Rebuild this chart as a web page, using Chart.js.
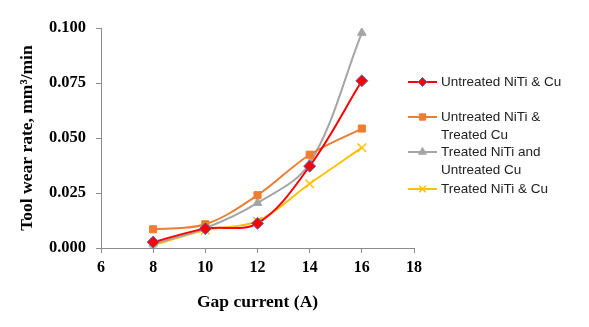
<!DOCTYPE html>
<html lang="en">
<head>
    <meta charset="UTF-8">
    <title>Tool wear rate</title>
    <script src="https://cdn.jsdelivr.net/npm/chart.js"></script>
    <style>
        html, body { margin: 0; padding: 0; background: #fff; }
        #wrap { width: 589px; height: 327px; }
    </style>
</head>
<body>
    <div id="wrap"><canvas id="myChart" width="589" height="327"></canvas></div>
    <script>
        // gap current (A)
        const gapCurrent = [8, 10, 12, 14, 16];

        // tool wear rate, mm3/min
        const untreatedBoth = [0.0027, 0.0088, 0.0112, 0.0372, 0.0760];
        const untreatedNiTiTreatedCu = [0.0085, 0.0108, 0.0240, 0.0424, 0.0543];
        const treatedNiTiUntreatedCu = [0.0020, 0.0090, 0.0205, 0.0385, 0.0978];
        const treatedBoth = [0.0012, 0.0082, 0.0122, 0.0292, 0.0456];

        const legendLabels = [
            ['Untreated NiTi & Cu'],
            ['Untreated NiTi &', 'Treated Cu'],
            ['Treated NiTi and', 'Untreated Cu'],
            ['Treated NiTi & Cu']
        ];
        const legendRows = [82, 117, 152, 189];

        function pts(vals) {
            return gapCurrent.map((x, i) => ({ x: x, y: vals[i] }));
        }

        // hand drawn legend on the right, labels wrap like the excel one
        const sideLegend = {
            id: 'sideLegend',
            afterDraw(chart) {
                const ctx = chart.ctx;
                ctx.save();
                ctx.font = '13.5px "Liberation Sans", Arial, sans-serif';
                ctx.textBaseline = 'middle';
                chart.data.datasets.forEach((ds, i) => {
                    const y = legendRows[i];
                    ctx.strokeStyle = ds.borderColor;
                    ctx.lineWidth = 2;
                    ctx.beginPath();
                    ctx.moveTo(408, y);
                    ctx.lineTo(437, y);
                    ctx.stroke();
                    ctx.fillStyle = ds.pointBackgroundColor;
                    ctx.strokeStyle = ds.pointBorderColor;
                    ctx.lineWidth = ds.pointBorderWidth || 1;
                    Chart.helpers.drawPoint(ctx, {
                        pointStyle: ds.pointStyle,
                        radius: 4.5,
                        borderWidth: ds.pointBorderWidth || 1
                    }, 422.5, y);
                    ctx.fillStyle = '#222';
                    legendLabels[i].forEach((line, j) => {
                        ctx.fillText(line, 441, y + j * 18);
                    });
                });
                ctx.restore();
            }
        };

        const serif = '"Liberation Serif", "Times New Roman", serif';

        const ctx = document.getElementById('myChart').getContext('2d');
        const myChart = new Chart(ctx, {
            type: 'line',
            data: {
                datasets: [{
                    label: 'Untreated NiTi & Cu',
                    data: pts(untreatedBoth),
                    borderColor: '#FF0000',
                    borderWidth: 2,
                    pointStyle: 'rectRot',
                    pointRadius: 6,
                    pointBackgroundColor: '#FF0000',
                    pointBorderColor: '#4472C4',
                    pointBorderWidth: 1
                }, {
                    label: 'Untreated NiTi & Treated Cu',
                    data: pts(untreatedNiTiTreatedCu),
                    borderColor: '#ED7D31',
                    borderWidth: 2,
                    pointStyle: 'rect',
                    pointRadius: 5,
                    pointBackgroundColor: '#ED7D31',
                    pointBorderColor: '#ED7D31',
                    pointBorderWidth: 1
                }, {
                    label: 'Treated NiTi and Untreated Cu',
                    data: pts(treatedNiTiUntreatedCu),
                    borderColor: '#A5A5A5',
                    borderWidth: 2,
                    pointStyle: 'triangle',
                    pointRadius: 5,
                    pointBackgroundColor: '#A5A5A5',
                    pointBorderColor: '#A5A5A5',
                    pointBorderWidth: 1
                }, {
                    label: 'Treated NiTi & Cu',
                    data: pts(treatedBoth),
                    borderColor: '#FFC000',
                    borderWidth: 2,
                    pointStyle: 'crossRot',
                    pointRadius: 6,
                    pointBackgroundColor: '#FFC000',
                    pointBorderColor: '#FFC000',
                    pointBorderWidth: 1.5
                }]
            },
            options: {
                responsive: false,
                animation: false,
                elements: { line: { tension: 0.35 } },
                layout: { padding: { top: 28, right: 175, bottom: 0, left: 0 } },
                plugins: {
                    legend: { display: false },
                    tooltip: { enabled: false }
                },
                scales: {
                    x: {
                        type: 'linear',
                        min: 6,
                        max: 18,
                        ticks: {
                            stepSize: 2,
                            padding: 5,
                            color: '#000',
                            font: { family: serif, size: 16, weight: 'bold' }
                        },
                        grid: { drawOnChartArea: false, tickLength: 5, color: '#8c8c8c' },
                        border: { color: '#8c8c8c' },
                        title: {
                            display: true,
                            text: 'Gap current (A)',
                            color: '#000',
                            padding: { top: 4, bottom: 14 },
                            font: { family: serif, size: 17.5, weight: 'bold' }
                        },
                        afterFit(scale) { scale.height = 79; }
                    },
                    y: {
                        min: 0,
                        max: 0.1,
                        ticks: {
                            stepSize: 0.025,
                            padding: 10,
                            color: '#000',
                            callback: v => v.toFixed(3),
                            font: { family: serif, size: 16.5, weight: 'bold' }
                        },
                        grid: { drawOnChartArea: false, tickLength: 5, color: '#8c8c8c' },
                        border: { color: '#8c8c8c' },
                        title: {
                            display: true,
                            text: 'Tool wear rate, mm³/min',
                            color: '#000',
                            padding: { top: 17, bottom: 0 },
                            font: { family: serif, size: 17.5, weight: 'bold' }
                        },
                        afterFit(scale) { scale.width = 101; }
                    }
                }
            },
            plugins: [sideLegend]
        });
    </script>
</body>
</html>
